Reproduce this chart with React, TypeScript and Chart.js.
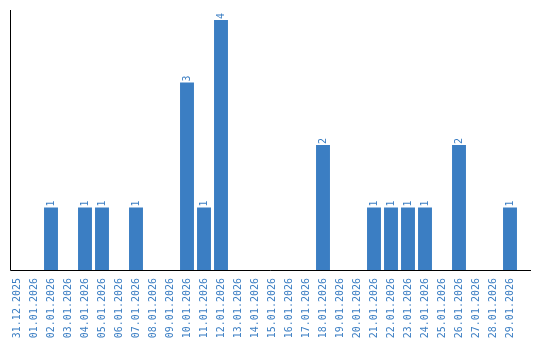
import React, { useEffect, useRef } from "react";
import { Chart, registerables } from "chart.js";

Chart.register(...registerables);

const categories: string[] = [
  "31.12.2025", "01.01.2026", "02.01.2026", "03.01.2026", "04.01.2026", "05.01.2026",
  "06.01.2026", "07.01.2026", "08.01.2026", "09.01.2026", "10.01.2026", "11.01.2026",
  "12.01.2026", "13.01.2026", "14.01.2026", "15.01.2026", "16.01.2026", "17.01.2026",
  "18.01.2026", "19.01.2026", "20.01.2026", "21.01.2026", "22.01.2026", "23.01.2026",
  "24.01.2026", "25.01.2026", "26.01.2026", "27.01.2026", "28.01.2026", "29.01.2026",
];

const counts: number[] = [
  0, 0, 1, 0, 1, 1,
  0, 1, 0, 0, 3, 1,
  4, 0, 0, 0, 0, 0,
  2, 0, 0, 1, 1, 1,
  1, 0, 2, 0, 0, 1,
];

const BAR_COLOR = "#3b7ec3";
const TEXT_COLOR = "#3b7ec3";
const FONT_FAMILY = "'DejaVu Sans Mono', monospace";

const axisAndLabels = {
  id: "axisAndLabels",
  afterDatasetsDraw(chart: any) {
    const { ctx, chartArea } = chart;
    ctx.save();
    // axis lines
    ctx.strokeStyle = "#000000";
    ctx.lineWidth = 1;
    ctx.beginPath();
    ctx.moveTo(10.5, chartArea.top);
    ctx.lineTo(10.5, chartArea.bottom + 0.5);
    ctx.lineTo(531, chartArea.bottom + 0.5);
    ctx.stroke();
    // value labels
    const meta = chart.getDatasetMeta(0);
    ctx.fillStyle = TEXT_COLOR;
    ctx.font = `10px ${FONT_FAMILY}`;
    ctx.textAlign = "left";
    ctx.textBaseline = "middle";
    meta.data.forEach((bar: any, i: number) => {
      const v = counts[i];
      if (!v) return;
      ctx.save();
      ctx.translate(bar.x, bar.y - 1);
      ctx.rotate(-Math.PI / 2);
      ctx.fillText(String(v), 0, 0);
      ctx.restore();
    });
    ctx.restore();
  },
};

export default function App() {
  const canvasRef = useRef<HTMLCanvasElement | null>(null);

  useEffect(() => {
    document.body.style.margin = "0";
    const canvas = canvasRef.current;
    if (!canvas) return;
    const chart = new Chart(canvas, {
      type: "bar",
      data: {
        labels: categories,
        datasets: [
          {
            data: counts,
            backgroundColor: BAR_COLOR,
            borderWidth: 0,
            categoryPercentage: 1,
            barPercentage: 0.82,
          },
        ],
      },
      options: {
        animation: false,
        responsive: false,
        maintainAspectRatio: false,
        layout: { padding: { left: 8.5, right: 21.5, top: 10, bottom: 0 } },
        plugins: {
          legend: { display: false },
          tooltip: { enabled: false },
          title: { display: false },
        },
        scales: {
          x: {
            grid: { display: false, drawTicks: false },
            border: { display: false },
            ticks: {
              autoSkip: false,
              minRotation: 90,
              maxRotation: 90,
              padding: 8,
              color: TEXT_COLOR,
              font: { family: FONT_FAMILY, size: 10 },
            },
            afterFit: (scale: any) => {
              scale.height = 70;
            },
          },
          y: {
            min: 0,
            max: 4.16,
            grid: { display: false, drawTicks: false },
            border: { display: false },
            ticks: { display: false },
            afterFit: (scale: any) => {
              scale.width = 0;
            },
          },
        },
      },
      plugins: [axisAndLabels],
    });
    return () => chart.destroy();
  }, []);

  return (
    <div style={{ width: 540, height: 340 }}>
      <canvas ref={canvasRef} width={540} height={340} style={{ display: "block" }} />
    </div>
  );
}
